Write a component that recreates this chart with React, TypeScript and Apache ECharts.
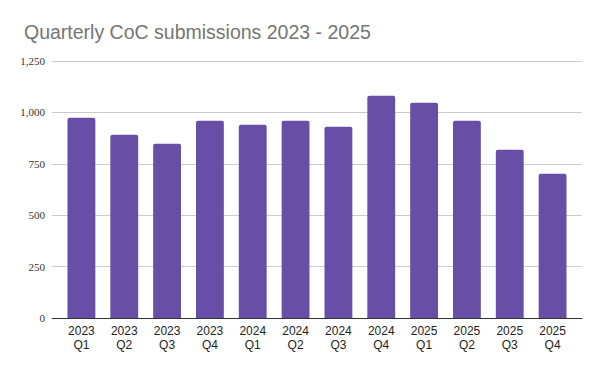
import React, { useEffect, useRef } from "react";
import * as echarts from "echarts";

const categories = [
  "2023\nQ1", "2023\nQ2", "2023\nQ3", "2023\nQ4",
  "2024\nQ1", "2024\nQ2", "2024\nQ3", "2024\nQ4",
  "2025\nQ1", "2025\nQ2", "2025\nQ3", "2025\nQ4",
];
const submissions = [974, 891, 847, 959, 940, 959, 930, 1081, 1047, 959, 818, 701];
const yTicks = [0, 250, 500, 750, 1000, 1250];
const title = "Quarterly CoC submissions 2023 - 2025";

export default function App() {
  const ref = useRef<HTMLDivElement>(null);
  useEffect(() => {
    if (!ref.current) return;
    const chart = echarts.init(ref.current, null, { renderer: "svg" });
    const yMax = yTicks[yTicks.length - 1];
    const interval = yTicks[1] - yTicks[0];
    chart.setOption({
      animation: false,
      backgroundColor: "#ffffff",
      title: {
        text: title,
        left: 11,
        top: 9,
        textStyle: {
          fontFamily: "'Liberation Sans', Arial, sans-serif",
          fontSize: 19.5,
          fontWeight: "normal",
          color: "#757575",
        },
      },
      grid: [
        { left: 44, right: 10, top: 53, bottom: 45, containLabel: false },
        { left: 52, right: 18, top: 53, bottom: 45, containLabel: false },
      ],
      xAxis: [
        {
          type: "category",
          gridIndex: 0,
          data: categories,
          axisLine: { show: true, lineStyle: { color: "#333333", width: 1 } },
          axisTick: { show: false },
          axisLabel: { show: false },
          splitLine: { show: false },
        },
        {
          type: "category",
          gridIndex: 1,
          data: categories,
          axisLine: { show: false },
          axisTick: { show: false },
          axisLabel: {
            color: "#222222",
            fontFamily: "'Liberation Sans', Arial, sans-serif",
            fontSize: 12,
            lineHeight: 14,
            margin: 6,
            interval: 0,
          },
        },
      ],
      yAxis: [
        {
          type: "value",
          gridIndex: 0,
          min: 0,
          max: yMax,
          interval,
          axisLine: { show: false },
          axisTick: { show: false },
          axisLabel: {
            color: "#333333",
            fontFamily: "'Liberation Serif', 'Times New Roman', serif",
            fontSize: 11,
            margin: 7,
            formatter: (v: number) => v.toLocaleString("en-US"),
          },
          splitLine: { show: true, lineStyle: { color: "#cccccc", width: 1 } },
        },
        {
          type: "value",
          gridIndex: 1,
          min: 0,
          max: yMax,
          interval,
          show: false,
          splitLine: { show: false },
        },
      ],
      series: [
        {
          type: "bar",
          xAxisIndex: 1,
          yAxisIndex: 1,
          data: submissions,
          barWidth: "65%",
          itemStyle: { color: "#674ea7", borderRadius: [2, 2, 0, 0] },
          z: 3,
        },
      ],
    });
    return () => chart.dispose();
  }, []);
  return <div ref={ref} style={{ width: 584, height: 355 }} />;
}
